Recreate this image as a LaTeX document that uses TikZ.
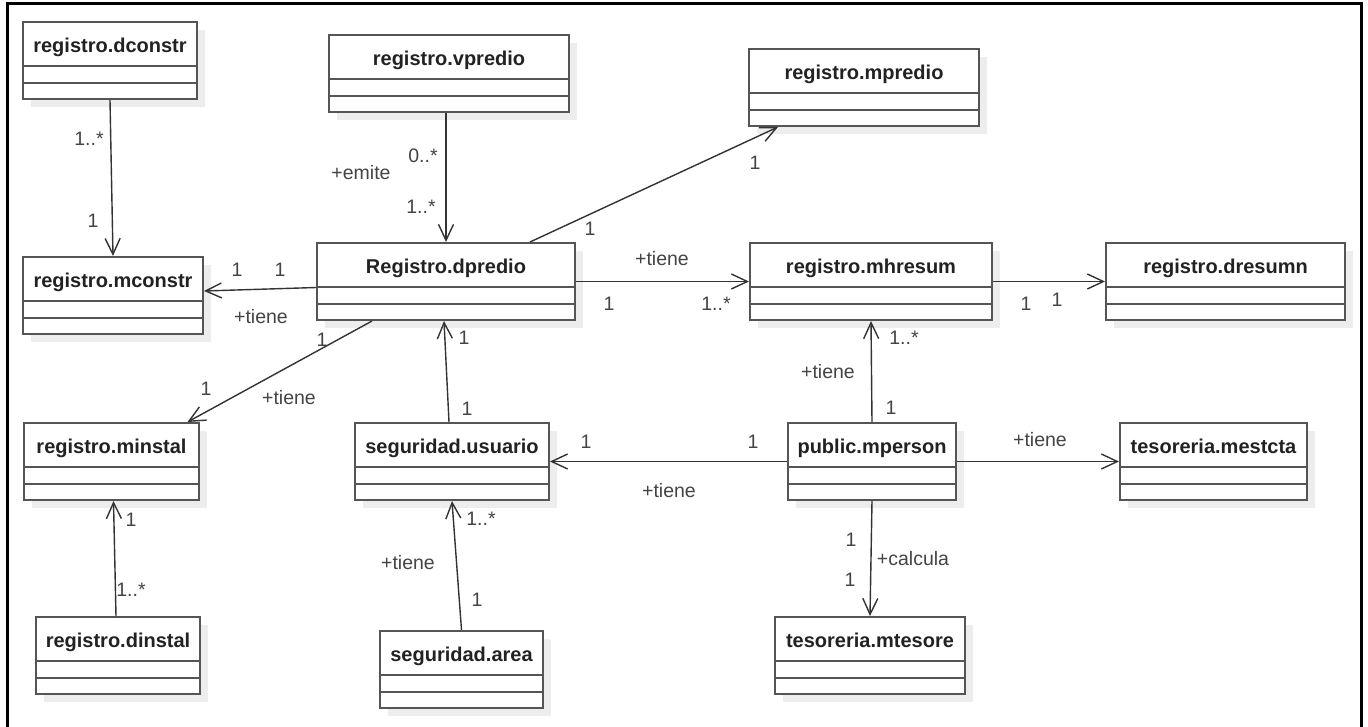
\documentclass[tikz,border=0pt]{standalone}
\usepackage{fontspec}
\setmainfont{Liberation Sans}
\usetikzlibrary{arrows.meta,fit}

\definecolor{boxline}{HTML}{555555}
\definecolor{linkc}{HTML}{333333}
\definecolor{labelc}{HTML}{444444}
\definecolor{namec}{HTML}{222222}
\definecolor{shadowc}{HTML}{EDEDED}

\tikzset{
  classbox/.style={draw=boxline, line width=2pt, fill=white, inner sep=0pt, rectangle},
  classname/.style={font=\fontsize{20}{24}\selectfont\bfseries, text=namec, inner sep=0pt, anchor=base},
  sepline/.style={draw=boxline, line width=2pt},
  assoc/.style={draw=linkc, line width=1.4pt,
    -{Straight Barb[length=16pt,width=15pt,line width=1.4pt]}},
  lbl/.style={font=\fontsize{19.5}{22}\selectfont, text=labelc, inner sep=0pt},
}

% UML class box: node name, left, top, right, bottom, title
\newcommand\umlclass[6]{%
  \fill[shadowc] (#2+8,#3+8) rectangle (#4+8,#5+8);
  \node[classbox, fit={(#2,#3) (#4,#5)}] (#1) {};
  \node[classname] (#1-title) at ({(#2+#4)/2},#3+30) {#6};
  \draw[sepline] (#2,#3+44) -- (#4,#3+44);
  \draw[sepline] (#2,#3+61) -- (#4,#3+61);
}

\begin{document}
\begin{tikzpicture}[x=1pt,y=-1pt]
\useasboundingbox (0,0) rectangle (1368,726);
\fill[white] (0,0) rectangle (1368,726);
\begin{scope}
  \clip (0,0) rectangle (1368,726);
  \draw[line width=3pt, black] (7,3) rectangle (1361,760);
\end{scope}

% classes
\umlclass{dconstr}{23}{22}{197}{99}{registro.dconstr}
\umlclass{vpredio}{329}{35}{569}{112}{registro.vpredio}
\umlclass{mpredio}{749}{49}{979}{126}{registro.mpredio}
\umlclass{mconstr}{23}{257}{203}{334}{registro.mconstr}
\umlclass{dpredio}{317}{243}{575}{320}{Registro.dpredio}
\umlclass{mhresum}{750}{243}{992}{320}{registro.mhresum}
\umlclass{dresumn}{1106}{243}{1345}{320}{registro.dresumn}
\umlclass{minstal}{24}{423}{199}{500}{registro.minstal}
\umlclass{usuario}{355}{423}{549}{500}{seguridad.usuario}
\umlclass{mperson}{788}{423}{956}{500}{public.mperson}
\umlclass{mestcta}{1120}{423}{1307}{500}{tesoreria.mestcta}
\umlclass{dinstal}{36}{617}{200}{694}{registro.dinstal}
\umlclass{area}{380}{631}{543}{708}{seguridad.area}
\umlclass{mtesore}{775}{617}{965}{694}{tesoreria.mtesore}

% associations
\draw[assoc] (dconstr.south) -- (mconstr.north);
\draw[assoc] ([xshift=-3pt]vpredio.south) -- (dpredio.north);
\draw[assoc] ([xshift=84pt]dpredio.north) -- ([xshift=-86pt]mpredio.south);
\draw[assoc] ([yshift=-6pt]dpredio.west) -- ([yshift=4.5pt]mconstr.east);
\draw[assoc] (dpredio.east) -- (mhresum.west);
\draw[assoc] (mhresum.east) -- (dresumn.west);
\draw[assoc] ([xshift=-74pt]dpredio.south) -- ([xshift=76pt]minstal.north);
\draw[assoc] ([xshift=-3pt]usuario.north) -- ([xshift=-2pt]dpredio.south);
\draw[assoc] (mperson.north) -- (mhresum.south);
\draw[assoc] (mperson.west) -- (usuario.east);
\draw[assoc] (mperson.east) -- (mestcta.west);
\draw[assoc] (mperson.south) -- (mtesore.north);
\draw[assoc] ([xshift=-2pt]dinstal.north) -- ([xshift=2pt]minstal.south);
\draw[assoc] (area.north) -- (usuario.south);

% multiplicities and role names
\node[lbl] (m1) at (89,139) {1..*};
\node[lbl] (m2) at (93,221) {1};
\node[lbl] (r1) at (361,173) {+emite};
\node[lbl] (m3) at (423,156) {0..*};
\node[lbl] (m4) at (421,207) {1..*};
\node[lbl] (m5) at (755,163) {1};
\node[lbl] (m6) at (590,229) {1};
\node[lbl] (m7) at (237,270) {1};
\node[lbl] (m8) at (280,270) {1};
\node[lbl] (r2) at (261,317) {+tiene};
\node[lbl] (m9) at (322,340) {1};
\node[lbl] (m10) at (206,389) {1};
\node[lbl] (r3) at (289,398) {+tiene};
\node[lbl] (m11) at (464,338) {1};
\node[lbl] (m12) at (467,409) {1};
\node[lbl] (r4) at (662,259) {+tiene};
\node[lbl] (m13) at (609,304) {1};
\node[lbl] (m14) at (716,304) {1..*};
\node[lbl] (m15) at (1026,304) {1};
\node[lbl] (m16) at (1057,300) {1};
\node[lbl] (m17) at (904,338) {1..*};
\node[lbl] (r5) at (828,372) {+tiene};
\node[lbl] (m18) at (891,408) {1};
\node[lbl] (m19) at (586,442) {1};
\node[lbl] (m20) at (753,442) {1};
\node[lbl] (r6) at (669,491) {+tiene};
\node[lbl] (r7) at (1040,440) {+tiene};
\node[lbl] (m21) at (851,540) {1};
\node[lbl] (m22) at (850,580) {1};
\node[lbl] (r8) at (913,559) {+calcula};
\node[lbl] (m23) at (131,520) {1};
\node[lbl] (m24) at (131,590) {1..*};
\node[lbl] (m25) at (481,519) {1..*};
\node[lbl] (r9) at (408,563) {+tiene};
\node[lbl] (m26) at (477,600) {1};
\end{tikzpicture}
\end{document}
